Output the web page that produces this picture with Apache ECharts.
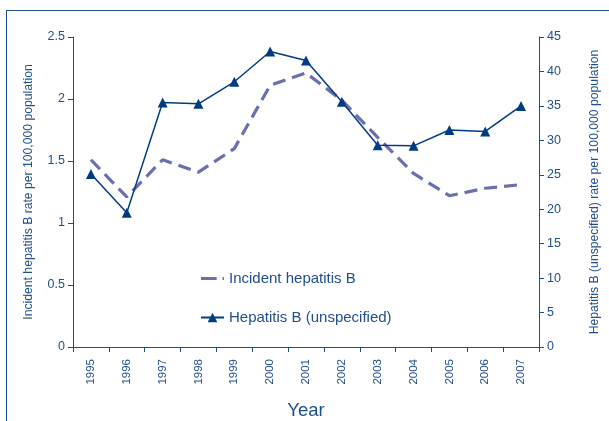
<!DOCTYPE html>
<html>
<head>
<meta charset="utf-8">
<script src="https://cdn.jsdelivr.net/npm/echarts@6/dist/echarts.min.js"></script>
<style>
html,body{margin:0;padding:0;background:#fff;overflow:hidden;}
#frame{position:absolute;left:6px;top:10px;width:700px;height:500px;border:1.5px solid #1F4E8C;box-sizing:border-box;}
#chart{position:absolute;left:0;top:0;width:609px;height:421px;}
</style>
</head>
<body>
<div id="frame"></div>
<div id="chart"></div>
<script>
const years = ['1995','1996','1997','1998','1999','2000','2001','2002','2003','2004','2005','2006','2007'];
const incidentRate = [1.51, 1.21, 1.51, 1.41, 1.60, 2.11, 2.21, 1.99, 1.69, 1.40, 1.22, 1.28, 1.31];
const unspecifiedRate = [25.1, 19.5, 35.5, 35.3, 38.5, 42.9, 41.6, 35.6, 29.3, 29.2, 31.5, 31.3, 35.0];
const leftTicks = {min: 0, max: 2.5, interval: 0.5};
const rightTicks = {min: 0, max: 45, interval: 5};

const txt = '#1F4E8C';
const font = 'Liberation Sans, Arial, sans-serif';
const chart = echarts.init(document.getElementById('chart'));
chart.setOption({
  animation: false,
  textStyle: {fontFamily: font, color: txt},
  grid: {left: 73, right: 70, top: 37, bottom: 74, outerBoundsMode: 'none', containLabel: false},
  legend: {
    orient: 'vertical', left: 195, top: 266, itemGap: 24, itemWidth: 23, itemHeight: 12,
    textStyle: {fontSize: 15, color: txt, fontFamily: font},
    data: [
      {name: 'Incident hepatitis B', icon: 'path://M0,0 L16,0 L16,3 L0,3 Z M22,0 L23.5,0 L23.5,3 L22,3 Z'},
      {name: 'Hepatitis B (unspecified)'}
    ]
  },
  xAxis: {
    type: 'category', data: years, boundaryGap: true,
    name: 'Year', nameLocation: 'middle', nameGap: 54,
    nameTextStyle: {fontSize: 18.5, color: txt, fontFamily: font},
    axisLine: {lineStyle: {color: txt, width: 1}},
    axisTick: {show: true, length: 5, lineStyle: {color: txt}, alignWithLabel: false},
    axisLabel: {rotate: 90, fontSize: 11.5, color: txt, margin: 12, fontFamily: font}
  },
  yAxis: [{
    type: 'value', min: leftTicks.min, max: leftTicks.max, interval: leftTicks.interval,
    name: 'Incident hepatitis B rate per 100,000 population', nameLocation: 'middle', nameGap: 38, nameRotate: 90,
    nameTextStyle: {fontSize: 12.2, color: txt, fontFamily: font},
    axisLine: {show: true, lineStyle: {color: txt}},
    axisTick: {show: true, length: 5, lineStyle: {color: txt}},
    axisLabel: {fontSize: 12.5, color: txt, margin: 8, fontFamily: font},
    splitLine: {show: false}
  }, {
    type: 'value', position: 'right', min: rightTicks.min, max: rightTicks.max, interval: rightTicks.interval,
    name: 'Hepatitis B (unspecified) rate per 100,000 population', nameLocation: 'middle', nameGap: 50, nameRotate: 90,
    nameTextStyle: {fontSize: 12.2, color: txt, fontFamily: font},
    axisLine: {show: true, lineStyle: {color: txt}},
    axisTick: {show: true, length: 5, lineStyle: {color: txt}},
    axisLabel: {fontSize: 12.5, color: txt, margin: 8, fontFamily: font},
    splitLine: {show: false}
  }],
  series: [{
    name: 'Incident hepatitis B', type: 'line', yAxisIndex: 0, data: incidentRate,
    symbol: 'none', z: 2,
    lineStyle: {color: '#6A6FAF', width: 3.2, type: [13, 7]},
    itemStyle: {color: '#6A6FAF'}
  }, {
    name: 'Hepatitis B (unspecified)', type: 'line', yAxisIndex: 1, data: unspecifiedRate,
    symbol: 'triangle', symbolSize: 10, showAllSymbol: true, z: 3,
    lineStyle: {color: '#003C82', width: 1.5},
    itemStyle: {color: '#003C82'}
  }]
});
</script>
</body>
</html>
